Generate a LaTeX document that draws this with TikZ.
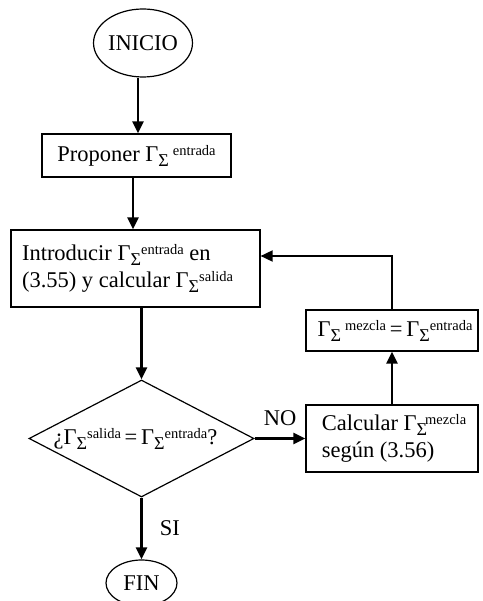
\documentclass[tikz,border=0pt]{standalone}
\usepackage{fontspec}
\setmainfont{Liberation Serif}
\usetikzlibrary{shapes.geometric,arrows.meta}

\newcommand\sigmafont{\fontsize{18}{18}\selectfont}
\newcommand\supfont{\fontsize{14.5}{14.5}\selectfont}
% Gamma, a lowered Sigma, then a raised word
\newcommand\GS[1]{Γ\raisebox{-5pt}{\sigmafont Σ}\raisebox{6pt}{\supfont #1}}
% same, with a small gap before the raised word
\newcommand\GSgap[1]{Γ\raisebox{-5pt}{\sigmafont Σ}\hspace{4pt}\raisebox{6pt}{\supfont #1}}
% same, with the raised word pulled back over the Sigma
\newcommand\GStight[1]{Γ\raisebox{-5pt}{\sigmafont Σ}\hspace{-2pt}\raisebox{6pt}{\supfont #1}}
\newcommand\bodyfont{\fontsize{22.5}{27}\selectfont}

\begin{document}
\begin{tikzpicture}[x=1pt,y=-1pt,
  every node/.style={font=\bodyfont},
  stepbox/.style={draw, rectangle, line width=1.2pt, inner sep=0pt},
  term/.style={draw, ellipse, line width=1.2pt, inner sep=0pt},
  decision/.style={draw, diamond, line width=1.2pt, inner sep=0pt, aspect=1.92},
  arr/.style={line width=2.6pt, -{Triangle[length=12pt,width=11pt]}},
  back/.style={line width=1.8pt, -{Triangle[length=12pt,width=11pt]}},
  lbl/.style={inner sep=0pt}]
\useasboundingbox (0,0) rectangle (482,601);

\node[term, minimum width=86pt, minimum height=68pt] (inicio) at (143,43) {INICIO};
\node[stepbox, minimum width=189pt, minimum height=43pt] (proponer) at (136.5,155.5) {Proponer \GSgap{entrada}};
\node[stepbox, minimum width=249pt, minimum height=77pt, align=left] (intro) at (135.5,268.5)
  {Introducir \GS{entrada} en\\(3.55) y calcular \GS{salida}\hspace*{16pt}};
\node[decision, minimum width=225pt, minimum height=117pt] (dec) at (141.5,438.5) {};
\node[lbl] (dectext) at ([xshift=-6pt]dec.center) {¿\GS{salida}\,=\,\GS{entrada}?};
\node[stepbox, minimum width=172pt, minimum height=67pt, align=left] (calc) at (392,438.5)
  {\hspace*{4pt}Calcular \GStight{mezcla}\\\hspace*{4pt}según (3.56)};
\node[stepbox, minimum width=172pt, minimum height=41pt] (mezcla) at (392,330.5) {};
\node[lbl] (mezclatext) at ([xshift=3pt]mezcla.center) {\GSgap{mezcla}\,=\,\GS{entrada}};
\node[term, minimum width=71pt, minimum height=46pt] (fin) at (141.5,583) {FIN};

% main flow
\draw[arr] ([xshift=-5pt]inicio.south) -- ([xshift=1.5pt]proponer.north);
\draw[arr] ([xshift=-3.5pt]proponer.south) -- ([xshift=-2.5pt]intro.north);
\draw[arr] ([xshift=6pt]intro.south) -- (dec.north);
\draw[arr] (dec.south) -- (fin.north) node[lbl, midway, right=17pt] {SI};
\draw[arr] (dec.east) -- (calc.west) node[lbl, pos=0.5, above=11pt] {NO};
% loop back
\draw[arr] (calc.north) -- (mezcla.south);
\draw[back] (mezcla.north) |- ([yshift=12.5pt]intro.east);
\end{tikzpicture}
\end{document}
